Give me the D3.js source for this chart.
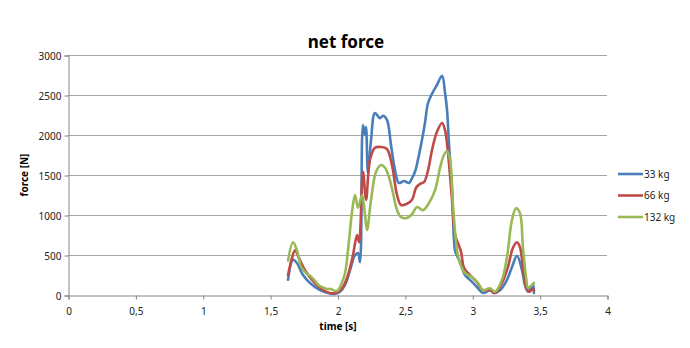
<!DOCTYPE html>
<html><head><meta charset="utf-8">
<script src="https://cdn.jsdelivr.net/npm/d3@7"></script>
<style>
html,body{margin:0;padding:0;background:#fff;}
text{font-family:"Noto Sans","DejaVu Sans",sans-serif;}
</style></head>
<body><svg id="c" width="690" height="348"></svg>
<script>
const seriesNames = ["33 kg", "66 kg", "132 kg"];
const seriesColors = ["#4A7EBB", "#BE4B48", "#98B954"];
const xTicks = [0, 0.5, 1, 1.5, 2, 2.5, 3, 3.5, 4];
const xTickLabels = ["0", "0,5", "1", "1,5", "2", "2,5", "3", "3,5", "4"];
const yTicks = [0, 500, 1000, 1500, 2000, 2500, 3000];

const t33 = [1.633,1.670,1.699,1.744,1.796,1.870,1.929,1.974,2.019,2.056,2.093,2.130,2.152,2.167,2.189,2.204,2.212,2.226,2.249,2.278,2.315,2.338,2.367,2.397,2.427,2.456,2.494,2.531,2.553,2.575,2.597,2.627,2.649,2.672,2.709,2.738,2.776,2.798,2.813,2.827,2.850,2.872,2.887,2.909,2.946,2.983,3.035,3.080,3.132,3.161,3.206,3.258,3.295,3.332,3.369,3.391,3.414,3.436,3.451,3.458];
const f33 = [190,440,400,250,150,60,25,12,40,125,310,500,525,410,2125,2000,2100,1525,1940,2275,2210,2240,2190,1875,1560,1400,1425,1400,1460,1540,1690,1940,2150,2400,2540,2625,2740,2525,2310,1900,1310,560,490,410,250,190,100,25,60,25,60,190,350,490,310,125,40,90,135,25];

const t66 = [1.633,1.662,1.685,1.714,1.759,1.811,1.870,1.944,2.004,2.041,2.078,2.115,2.145,2.160,2.189,2.212,2.241,2.278,2.323,2.367,2.404,2.442,2.471,2.516,2.553,2.583,2.612,2.642,2.672,2.701,2.738,2.776,2.798,2.820,2.850,2.872,2.894,2.917,2.939,2.983,3.035,3.080,3.132,3.169,3.221,3.265,3.302,3.332,3.354,3.376,3.399,3.421,3.451,3.458];
const f66 = [250,460,560,460,310,190,90,25,40,100,250,500,750,660,1540,1190,1690,1840,1850,1825,1625,1250,1125,1140,1190,1340,1390,1410,1560,1810,2040,2150,2060,1775,1190,750,650,540,340,250,160,60,60,25,150,350,590,660,600,350,100,40,75,60];

const t132 = [1.633,1.670,1.699,1.729,1.766,1.796,1.833,1.870,1.922,1.952,1.981,2.004,2.026,2.056,2.078,2.108,2.130,2.152,2.182,2.204,2.219,2.249,2.286,2.323,2.353,2.382,2.412,2.442,2.471,2.508,2.553,2.590,2.634,2.679,2.724,2.761,2.790,2.813,2.835,2.857,2.887,2.909,2.946,2.998,3.043,3.080,3.132,3.169,3.221,3.258,3.295,3.325,3.354,3.376,3.399,3.414,3.443,3.458];
const f132 = [430,660,560,360,275,240,175,110,75,75,50,60,125,275,560,1040,1250,1090,1250,1000,810,1190,1540,1625,1590,1475,1275,1060,975,960,1010,1100,1060,1150,1310,1590,1750,1800,1690,1125,560,400,275,225,150,60,85,40,190,475,940,1085,1025,600,225,90,125,150];

const times = [t33, t66, t132];
const forces = [f33, f66, f132];

const svg = d3.select("#c");
const x = d3.scaleLinear().domain([0, 4]).range([68, 607]);
const y = d3.scaleLinear().domain([0, 3000]).range([295, 55]);

// gridlines
svg.append("g").selectAll("line").data(yTicks.filter(d => d > 0)).join("line")
  .attr("x1", 68).attr("x2", 607)
  .attr("y1", d => y(d) + 0.5).attr("y2", d => y(d) + 0.5)
  .attr("stroke", "#A6A6A6").attr("stroke-width", 1);

// y axis
const yAxis = svg.append("g").attr("transform", "translate(68.5,0.5)")
  .call(d3.axisLeft(y).tickValues(yTicks).tickSize(4).tickPadding(3).tickFormat(d3.format("d")));
yAxis.select(".domain").attr("stroke", "#868686");
yAxis.selectAll(".tick line").attr("stroke", "#868686");
yAxis.selectAll(".tick text").attr("font-size", 10).attr("fill", "#222").attr("dy", "0.35em");

// x axis
const xAxis = svg.append("g").attr("transform", "translate(0.5,295.5)")
  .call(d3.axisBottom(x).tickValues(xTicks).tickSize(4).tickPadding(8)
    .tickFormat((d, i) => xTickLabels[i]));
xAxis.select(".domain").attr("stroke", "#868686");
xAxis.selectAll(".tick line").attr("stroke", "#868686");
xAxis.selectAll(".tick text").attr("font-size", 10).attr("fill", "#222");

// lines
const line = d3.line().curve(d3.curveCatmullRom.alpha(0.5))
  .x(d => x(d[0])).y(d => y(d[1]));
seriesNames.forEach((name, i) => {
  const pts = times[i].map((t, j) => [t, forces[i][j]]);
  svg.append("path").datum(pts)
    .attr("d", line).attr("fill", "none")
    .attr("stroke", seriesColors[i]).attr("stroke-width", 2.6)
    .attr("stroke-linejoin", "round").attr("stroke-linecap", "round");
});

// title
svg.append("text").attr("x", 346).attr("y", 48).attr("text-anchor", "middle")
  .attr("font-size", 17).attr("font-weight", "bold").attr("fill", "#000").text("net force");

// axis titles
svg.append("text").attr("x", 338).attr("y", 330).attr("text-anchor", "middle")
  .attr("font-size", 10).attr("font-weight", "bold").attr("fill", "#000").text("time [s]");
svg.append("text").attr("transform", "translate(28,175) rotate(-90)").attr("text-anchor", "middle")
  .attr("font-size", 10).attr("font-weight", "bold").attr("fill", "#000").text("force [N]");

// legend
const leg = svg.append("g");
seriesNames.forEach((name, i) => {
  const ly = 174 + i * 21.5;
  leg.append("line").attr("x1", 618).attr("x2", 643).attr("y1", ly).attr("y2", ly)
    .attr("stroke", seriesColors[i]).attr("stroke-width", 2.6);
  leg.append("text").attr("x", 644).attr("y", ly).attr("dy", "0.35em")
    .attr("font-size", 10).attr("fill", "#222").text(name);
});
</script></body></html>
